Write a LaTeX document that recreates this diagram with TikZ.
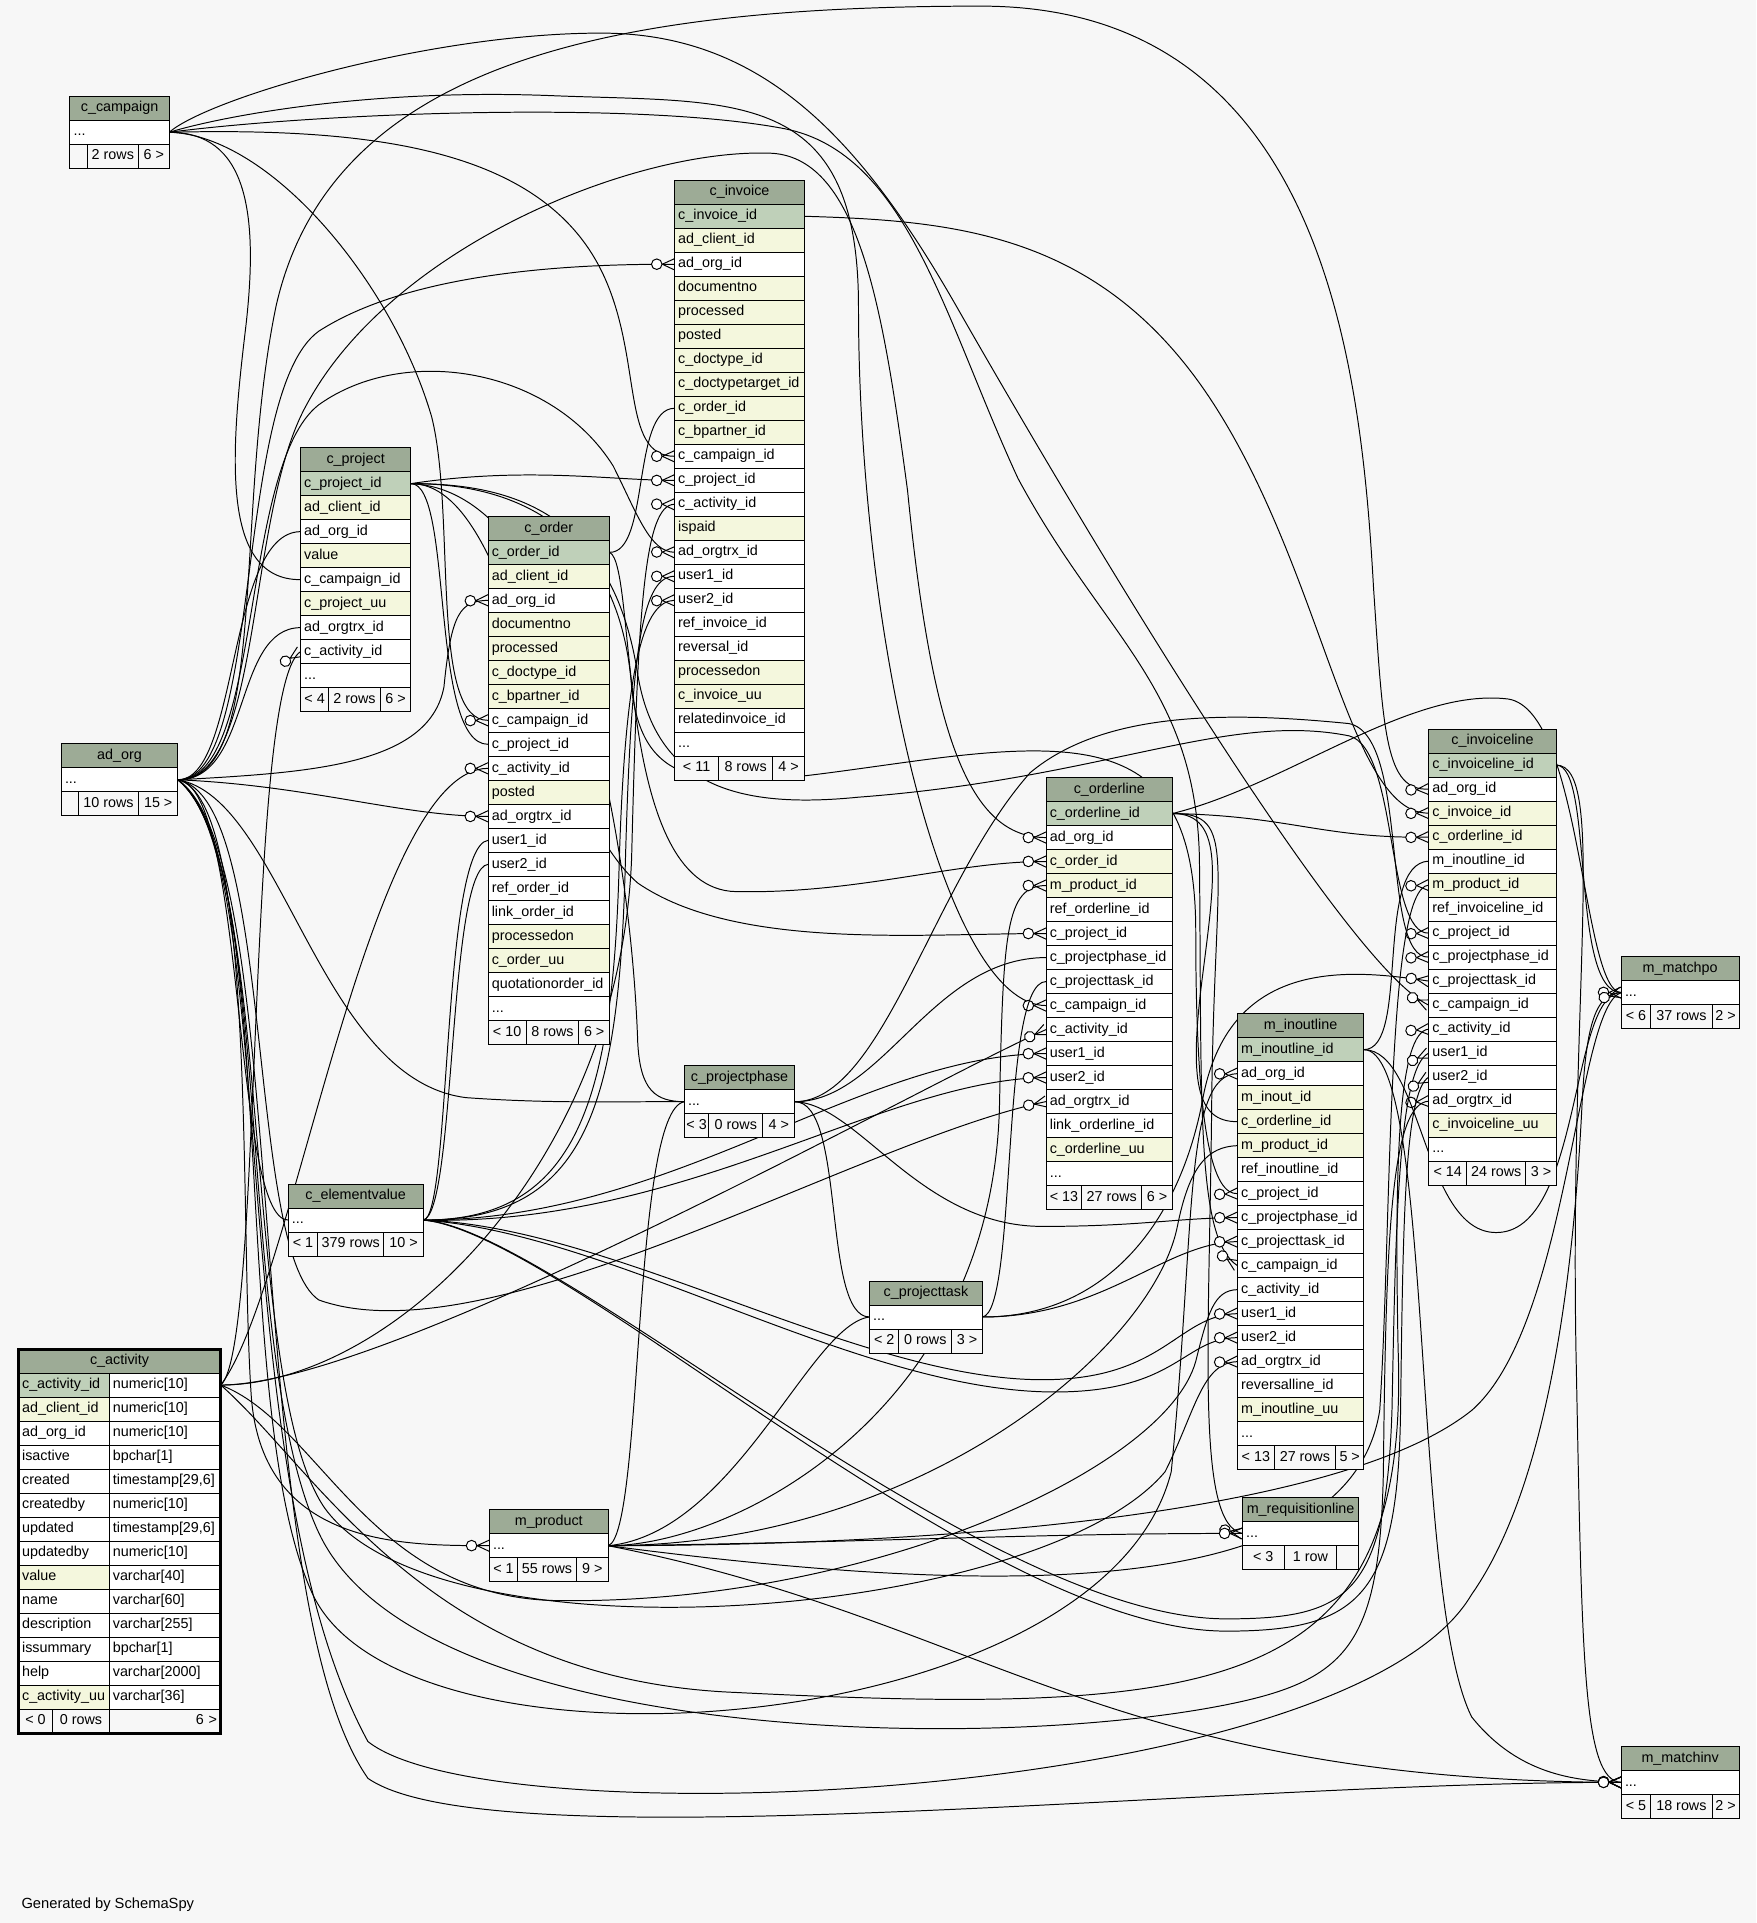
\documentclass[tikz,border=0pt]{standalone}
\usepackage{fontspec}
\setmainfont{Liberation Sans}
\usetikzlibrary{positioning,decorations.markings}

\definecolor{bgc}{RGB}{247,247,247}
\definecolor{hdc}{RGB}{157,171,150}
\definecolor{pkc}{RGB}{191,208,185}
\definecolor{nnc}{RGB}{244,247,221}

\pgfdeclarelayer{bg}
\pgfdeclarelayer{edges}
\pgfsetlayers{bg,edges,main}

\newcommand\tabfont{\fontsize{11.7pt}{13pt}\selectfont}

\tikzset{
  cell/.style={draw, line width=0.8pt, anchor=north west, inner ysep=0pt, outer sep=0pt,
    minimum height=19.57pt, text height=8.6pt, text depth=2.6pt, font=\tabfont},
  hd/.style={cell, fill=hdc, inner xsep=0pt},
  fld/.style={cell, fill=white, inner xsep=3pt, align=left},
  ftc/.style={cell, fill=bgc, inner xsep=0pt},
  fk/.style={draw, line width=0.8pt, postaction={decorate},
    decoration={markings, mark=at position 1 with {
      \draw[line width=0.8pt] (-10pt,0pt) -- (0pt,4.6pt) (-10pt,0pt) -- (0pt,-4.6pt);
      \draw[line width=0.8pt, fill=white] (-14.5pt,0pt) circle (4.3pt);}}}
}

% 表尾: 三格
\newcommand\tabfoot[9]{%
  \node[ftc, minimum width=#4] (#1-f1) at (#2,#3) {#5};
  \node[ftc, minimum width=#6, right=0pt of #1-f1] (#1-f2) {#7};
  \node[ftc, minimum width=#8, right=0pt of #1-f2] (#1-f3) {#9};}

\begin{document}
\begin{tikzpicture}[x=1pt, y=-1pt]
  \useasboundingbox (0,0) rectangle (1432,1568);
  \begin{pgfonlayer}{bg}
    \fill[bgc] (0,0) rectangle (1432,1568);
  \end{pgfonlayer}

  % 只有一行的表
  \foreach \id/\x/\y/\w/\ttl/\wa/\fa/\wb/\fb/\wc/\fc in {
    ccamp/57/78.5/81/c\_campaign/14/{}/42/2 rows/25/6 >,
    adorg/50/606.5/95/ad\_org/14/{}/49/10 rows/32/15 >,
    cpp/558/869/90/c\_projectphase/20/< 3/44/0 rows/26/4 >,
    cpt/709/1044.5/92/c\_projecttask/24/< 2/43/0 rows/25/3 >,
    cev/235/965.5/110/c\_elementvalue/24/< 1/54/379 rows/32/10 >,
    mprod/399/1231/97/m\_product/23/< 1/48/55 rows/26/9 >,
    mreq/1013/1221/95/m\_requisitionline/34/< 3/43/1 row/18/{},
    mmpo/1322/780/96/m\_matchpo/24/< 6/50/37 rows/22/2 >,
    mminv/1322/1424/96/m\_matchinv/24/< 5/50/18 rows/22/2 >}
  {
    \pgfmathsetmacro\tw{\w-6}
    \node[hd, minimum width=\w] (\id) at (\x,\y) {\ttl};
    \node[fld, text width=\tw pt] (\id-dots) at (\x,\y+19.57) {.{}.{}.};
    \tabfoot{\id}{\x}{\y+39.14}{\wa}{\fa}{\wb}{\fb}{\wc}{\fc}
  }

  % c_project
  \node[hd, minimum width=90] (cproj) at (245,365) {c\_project};
  \foreach \rk/\rc/\rt [count=\i] in {pk/pkc/c\_project\_id, cli/nnc/ad\_client\_id,
    org/white/ad\_org\_id, val/nnc/value, camp/white/c\_campaign\_id, uu/nnc/c\_project\_uu,
    trx/white/ad\_orgtrx\_id, act/white/c\_activity\_id, dots/white/.{}.{}.}
    \node[fld, fill=\rc, text width=84pt] (cproj-\rk) at (245,365+\i*19.57) {\rt};
  \tabfoot{cproj}{245}{365+10*19.57}{23}{< 4}{42}{2 rows}{25}{6 >}

  % c_order
  \node[hd, minimum width=99] (corder) at (398,421) {c\_order};
  \foreach \rk/\rc/\rt [count=\i] in {pk/pkc/c\_order\_id, cli/nnc/ad\_client\_id,
    org/white/ad\_org\_id, doc/nnc/documentno, proc/nnc/processed, dt/nnc/c\_doctype\_id,
    bp/nnc/c\_bpartner\_id, camp/white/c\_campaign\_id, proj/white/c\_project\_id,
    act/white/c\_activity\_id, post/nnc/posted, trx/white/ad\_orgtrx\_id, u1/white/user1\_id,
    u2/white/user2\_id, ref/white/ref\_order\_id, link/white/link\_order\_id,
    pon/nnc/processedon, uu/nnc/c\_order\_uu, quo/white/quotationorder\_id, dots/white/.{}.{}.}
    \node[fld, fill=\rc, text width=93pt] (corder-\rk) at (398,421+\i*19.57) {\rt};
  \tabfoot{corder}{398}{421+21*19.57}{31}{< 10}{43}{8 rows}{25}{6 >}

  % c_invoice
  \node[hd, minimum width=106] (cinv) at (550,147) {c\_invoice};
  \foreach \rk/\rc/\rt [count=\i] in {pk/pkc/c\_invoice\_id, cli/nnc/ad\_client\_id,
    org/white/ad\_org\_id, doc/nnc/documentno, proc/nnc/processed, post/nnc/posted,
    dt/nnc/c\_doctype\_id, dtt/nnc/c\_doctypetarget\_id, ord/nnc/c\_order\_id,
    bp/nnc/c\_bpartner\_id, camp/white/c\_campaign\_id, proj/white/c\_project\_id,
    act/white/c\_activity\_id, paid/nnc/ispaid, trx/white/ad\_orgtrx\_id, u1/white/user1\_id,
    u2/white/user2\_id, ref/white/ref\_invoice\_id, rev/white/reversal\_id,
    pon/nnc/processedon, uu/nnc/c\_invoice\_uu, rel/white/relatedinvoice\_id, dots/white/.{}.{}.}
    \node[fld, fill=\rc, text width=100pt] (cinv-\rk) at (550,147+\i*19.57) {\rt};
  \tabfoot{cinv}{550}{147+24*19.57}{36}{< 11}{44}{8 rows}{26}{4 >}

  % c_orderline
  \node[hd, minimum width=103] (col) at (853,634) {c\_orderline};
  \foreach \rk/\rc/\rt [count=\i] in {pk/pkc/c\_orderline\_id, org/white/ad\_org\_id,
    ord/nnc/c\_order\_id, prod/nnc/m\_product\_id, ref/white/ref\_orderline\_id,
    proj/white/c\_project\_id, phase/white/c\_projectphase\_id, task/white/c\_projecttask\_id,
    camp/white/c\_campaign\_id, act/white/c\_activity\_id, u1/white/user1\_id,
    u2/white/user2\_id, trx/white/ad\_orgtrx\_id, link/white/link\_orderline\_id,
    uu/nnc/c\_orderline\_uu, dots/white/.{}.{}.}
    \node[fld, fill=\rc, text width=97pt] (col-\rk) at (853,634+\i*19.57) {\rt};
  \tabfoot{col}{853}{634+17*19.57}{29}{< 13}{49}{27 rows}{25}{6 >}

  % c_invoiceline
  \node[hd, minimum width=104] (cil) at (1165,594.5) {c\_invoiceline};
  \foreach \rk/\rc/\rt [count=\i] in {pk/pkc/c\_invoiceline\_id, org/white/ad\_org\_id,
    inv/nnc/c\_invoice\_id, ol/nnc/c\_orderline\_id, io/white/m\_inoutline\_id,
    prod/nnc/m\_product\_id, ref/white/ref\_invoiceline\_id, proj/white/c\_project\_id,
    phase/white/c\_projectphase\_id, task/white/c\_projecttask\_id, camp/white/c\_campaign\_id,
    act/white/c\_activity\_id, u1/white/user1\_id, u2/white/user2\_id, trx/white/ad\_orgtrx\_id,
    uu/nnc/c\_invoiceline\_uu, dots/white/.{}.{}.}
    \node[fld, fill=\rc, text width=98pt] (cil-\rk) at (1165,594.5+\i*19.57) {\rt};
  \tabfoot{cil}{1165}{594.5+18*19.57}{31}{< 14}{48}{24 rows}{25}{3 >}

  % m_inoutline
  \node[hd, minimum width=103] (mio) at (1009,826.5) {m\_inoutline};
  \foreach \rk/\rc/\rt [count=\i] in {pk/pkc/m\_inoutline\_id, org/white/ad\_org\_id,
    io/nnc/m\_inout\_id, ol/nnc/c\_orderline\_id, prod/nnc/m\_product\_id,
    ref/white/ref\_inoutline\_id, proj/white/c\_project\_id, phase/white/c\_projectphase\_id,
    task/white/c\_projecttask\_id, camp/white/c\_campaign\_id, act/white/c\_activity\_id,
    u1/white/user1\_id, u2/white/user2\_id, trx/white/ad\_orgtrx\_id,
    rev/white/reversalline\_id, uu/nnc/m\_inoutline\_uu, dots/white/.{}.{}.}
    \node[fld, fill=\rc, text width=97pt] (mio-\rk) at (1009,826.5+\i*19.57) {\rt};
  \tabfoot{mio}{1009}{826.5+18*19.57}{30}{< 13}{50}{27 rows}{23}{5 >}

  % c_activity (两列)
  \node[hd, minimum width=165] (cact) at (15,1100) {c\_activity};
  \foreach \rk/\rc/\rt/\ty [count=\i] in {pk/pkc/c\_activity\_id/numeric[10],
    cli/nnc/ad\_client\_id/numeric[10], org/white/ad\_org\_id/numeric[10],
    isa/white/isactive/bpchar[1], cr/white/created/{timestamp[29,6]},
    crb/white/createdby/numeric[10], upd/white/updated/{timestamp[29,6]},
    updb/white/updatedby/numeric[10], val/nnc/value/varchar[40], nm/white/name/varchar[60],
    des/white/description/varchar[255], sum/white/issummary/bpchar[1],
    hlp/white/help/varchar[2000], uu/nnc/c\_activity\_uu/varchar[36]}
  {
    \node[fld, fill=\rc, text width=68pt] (cact-\rk) at (15,1100+\i*19.57) {\rt};
    \node[fld, text width=85pt] (cact-\rk-t) at (89,1100+\i*19.57) {\ty};
  }
  \node[ftc, minimum width=28] (cact-f1) at (15,1100+15*19.57) {< 0};
  \node[ftc, minimum width=46, right=0pt of cact-f1] (cact-f2) {0 rows};
  \node[ftc, text width=85pt, inner xsep=3pt, align=right, right=0pt of cact-f2] (cact-f3) {6 >};
  \draw[line width=2.4pt] (cact.north west) rectangle (cact-f3.south east);

  \node[anchor=base west, font=\fontsize{12pt}{14pt}\selectfont] (gen) at (14,1556) {Generated by SchemaSpy};

  % 连线
  \begin{pgfonlayer}{edges}
    % c_campaign
    \draw[fk] (ccamp-dots.east) .. controls (200,108) and (212,170) .. (200,270) .. controls (188,370) and (180,473) .. (cproj-camp.west);
    \draw[fk] (ccamp-dots.east) .. controls (220,110) and (320,230) .. (352,340) .. controls (372,420) and (350,588) .. (corder-camp.west);
    \draw[fk] (ccamp-dots.east) .. controls (300,104) and (440,120) .. (490,220) .. controls (525,290) and (505,372) .. (cinv-camp.west);
    \draw[fk] (ccamp-dots.east) .. controls (180,95) and (300,72) .. (450,78) .. controls (600,84) and (700,70) .. (700,250) .. controls (700,520) and (770,820) .. (col-camp.west);
    \draw[fk] (ccamp-dots.east) .. controls (170,80) and (350,27) .. (490,27) .. controls (620,27) and (700,110) .. (780,250) .. controls (900,460) and (1100,790) .. (cil-camp.west);
    \draw[fk] (ccamp-dots.east) .. controls (260,92) and (520,82) .. (640,105) .. controls (740,125) and (770,260) .. (830,390) .. controls (900,520) and (975,560) .. (978,700) .. controls (980,900) and (975,1010) .. (mio-camp.west);
    % ad_org
    \draw[fk] (adorg-dots.east) .. controls (195,636) and (185,434) .. (cproj-org.west);
    \draw[fk] (adorg-dots.east) .. controls (205,636) and (190,512) .. (cproj-trx.west);
    \draw[fk] (adorg-dots.east) .. controls (215,636) and (190,320) .. (260,270) .. controls (330,225) and (450,215) .. (cinv-org.west);
    \draw[fk] (adorg-dots.east) .. controls (215,636) and (195,380) .. (260,330) .. controls (330,280) and (450,300) .. (500,380) .. controls (520,420) and (530,450) .. (cinv-trx.west);
    \draw[fk] (adorg-dots.east) .. controls (250,630) and (350,625) .. (362,560) .. controls (368,500) and (375,490) .. (corder-org.west);
    \draw[fk] (adorg-dots.east) .. controls (250,640) and (330,666) .. (corder-trx.west);
    \draw[fk] (adorg-dots.east) .. controls (215,636) and (200,420) .. (250,330) .. controls (320,200) and (520,120) .. (630,125) .. controls (700,130) and (720,250) .. (740,400) .. controls (760,600) and (790,683) .. (col-org.west);
    \draw[fk] (adorg-dots.east) .. controls (225,650) and (200,1020) .. (260,1060) .. controls (400,1110) and (700,930) .. (col-trx.west);
    \draw[fk] (adorg-dots.east) .. controls (220,636) and (190,420) .. (225,250) .. controls (270,50) and (500,5) .. (800,5) .. controls (1080,5) and (1110,300) .. (1120,480) .. controls (1128,600) and (1130,645) .. (cil-org.west);
    \draw[fk] (adorg-dots.east) .. controls (225,700) and (190,1100) .. (260,1250) .. controls (340,1420) and (800,1430) .. (1000,1390) .. controls (1100,1370) and (1125,1340) .. (1128,1200) .. controls (1130,1000) and (1135,900) .. (cil-trx.west);
    \draw[fk] (adorg-dots.east) .. controls (230,700) and (185,1150) .. (255,1300) .. controls (330,1460) and (900,1420) .. (955,1200) .. controls (975,1000) and (965,876) .. (mio-org.west);
    \draw[fk] (adorg-dots.east) .. controls (225,700) and (195,1130) .. (265,1230) .. controls (360,1360) and (850,1320) .. (950,1200) .. controls (975,1150) and (980,1111) .. (mio-trx.west);
    \draw[fk] (adorg-dots.east) .. controls (200,640) and (190,995) .. (cev-dots.west);
    \draw[fk] (adorg-dots.east) .. controls (210,650) and (195,1000) .. (205,1140) .. controls (215,1262) and (330,1260) .. (mprod-dots.west);
    \draw[fk] (adorg-dots.east) .. controls (230,650) and (260,880) .. (380,895) .. controls (450,900) and (500,898) .. (cpp-dots.west);
    \draw[fk] (adorg-dots.east) .. controls (230,700) and (180,1200) .. (300,1420) .. controls (400,1500) and (1100,1470) .. (1200,1300) .. controls (1270,1200) and (1285,1000) .. (1290,900) .. controls (1293,840) and (1300,809) .. (mmpo-dots.west);
    \draw[fk] (adorg-dots.east) .. controls (240,700) and (195,1300) .. (300,1450) .. controls (400,1520) and (1000,1452) .. (mminv-dots.west);
    % c_activity
    \draw[fk] (cact-pk-t.east) .. controls (215,1100) and (200,560) .. (cproj-act.west);
    \draw[fk] (cact-pk-t.east) .. controls (240,1050) and (300,627) .. (corder-act.west);
    \draw[fk] (cact-pk-t.east) .. controls (320,1129) and (505,950) .. (515,700) .. controls (520,500) and (525,411) .. (cinv-act.west);
    \draw[fk] (cact-pk-t.east) .. controls (320,1129) and (760,880) .. (col-act.west);
    \draw[fk] (cact-pk-t.east) .. controls (260,1200) and (350,1370) .. (600,1380) .. controls (1000,1400) and (1150,1380) .. (1140,1100) .. controls (1137,950) and (1140,841) .. (cil-act.west);
    \draw[fk] (cact-pk-t.east) .. controls (260,1160) and (300,1300) .. (450,1305) .. controls (700,1310) and (950,1200) .. (975,1110) .. controls (985,1070) and (990,1052) .. (mio-act.west);
    % c_elementvalue
    \draw[fk] (cev-dots.east) .. controls (368,995) and (360,690) .. (corder-u1.west);
    \draw[fk] (cev-dots.east) .. controls (372,990) and (365,708) .. (corder-u2.west);
    \draw[fk] (cev-dots.east) .. controls (480,995) and (505,900) .. (510,700) .. controls (515,520) and (525,470) .. (cinv-u1.west);
    \draw[fk] (cev-dots.east) .. controls (470,995) and (500,900) .. (505,700) .. controls (510,540) and (525,490) .. (cinv-u2.west);
    \draw[fk] (cev-dots.east) .. controls (550,995) and (700,860) .. (col-u1.west);
    \draw[fk] (cev-dots.east) .. controls (560,1000) and (720,880) .. (col-u2.west);
    \draw[fk] (cev-dots.east) .. controls (450,1000) and (800,1320) .. (1000,1320) .. controls (1100,1320) and (1130,1300) .. (1135,1150) .. controls (1138,1000) and (1140,870) .. (cil-u1.west);
    \draw[fk] (cev-dots.east) .. controls (460,1005) and (800,1330) .. (1000,1330) .. controls (1110,1330) and (1140,1300) .. (1142,1150) .. controls (1144,1000) and (1145,890) .. (cil-u2.west);
    \draw[fk] (cev-dots.east) .. controls (500,1000) and (700,1125) .. (850,1125) .. controls (950,1125) and (960,1072) .. (mio-u1.west);
    \draw[fk] (cev-dots.east) .. controls (500,1005) and (700,1135) .. (860,1135) .. controls (960,1135) and (965,1091) .. (mio-u2.west);
    % c_project
    \draw[fk] (cproj-pk.east) .. controls (370,394) and (350,607) .. (corder-proj.west);
    \draw[fk] (cproj-pk.east) .. controls (430,380) and (500,392) .. (cinv-proj.west);
    \draw[fk] (cproj-pk.east) .. controls (420,394) and (440,650) .. (520,720) .. controls (600,775) and (750,761) .. (col-proj.west);
    \draw[fk] (cproj-pk.east) .. controls (420,394) and (500,420) .. (520,550) .. controls (535,640) and (600,660) .. (700,650) .. controls (900,635) and (1000,580) .. (1100,600) .. controls (1140,610) and (1130,762) .. (cil-proj.west);
    \draw[fk] (cproj-pk.east) .. controls (420,394) and (505,430) .. (515,560) .. controls (525,660) and (600,640) .. (750,620) .. controls (900,600) and (975,610) .. (975,760) .. controls (975,930) and (990,974) .. (mio-proj.west);
    \draw[fk] (cproj-pk.east) .. controls (470,400) and (515,700) .. (520,850) .. controls (522,890) and (535,898) .. (cpp-dots.west);
    % c_order
    \draw[fk] (corder-pk.east) .. controls (530,451) and (515,333) .. (cinv-ord.west);
    \draw[fk] (corder-pk.east) .. controls (520,460) and (500,725) .. (600,727) .. controls (700,729) and (780,702) .. (col-ord.west);
    % c_invoice
    \draw[fk] (cinv-pk.east) .. controls (780,180) and (900,190) .. (990,330) .. controls (1080,470) and (1100,664) .. (cil-inv.west);
    % c_orderline
    \draw[fk] (col-pk.east) .. controls (1050,665) and (1080,684) .. (cil-ol.west);
    \draw[fk] (col-pk.east) .. controls (1000,663) and (990,720) .. (980,800) .. controls (970,880) and (975,915) .. (mio-ol.west);
    \draw[fk] (col-pk.east) .. controls (1010,663) and (990,700) .. (988,900) .. controls (986,1100) and (975,1243) .. (mreq-dots.west);
    \draw[fk] (col-pk.east) .. controls (1050,640) and (1150,560) .. (1230,570) .. controls (1290,580) and (1290,809) .. (mmpo-dots.west);
    % c_invoiceline
    \draw[fk] (cil-pk.east) .. controls (1300,624) and (1280,809) .. (mmpo-dots.west);
    \draw[fk] (cil-pk.east) .. controls (1310,624) and (1280,800) .. (1285,1100) .. controls (1290,1350) and (1290,1452) .. (mminv-dots.west);
    % m_inoutline
    \draw[fk] (mio-pk.east) .. controls (1150,856) and (1120,704) .. (cil-io.west);
    \draw[fk] (mio-pk.east) .. controls (1160,856) and (1160,1005) .. (1220,1005) .. controls (1290,1005) and (1280,809) .. (mmpo-dots.west);
    \draw[fk] (mio-pk.east) .. controls (1170,856) and (1150,1300) .. (1200,1400) .. controls (1240,1450) and (1290,1452) .. (mminv-dots.west);
    % m_product
    \draw[fk] (mprod-dots.east) .. controls (600,1260) and (810,1150) .. (815,900) .. controls (818,760) and (820,722) .. (col-prod.west);
    \draw[fk] (mprod-dots.east) .. controls (800,1300) and (1100,1310) .. (1125,1150) .. controls (1135,1000) and (1130,723) .. (cil-prod.west);
    \draw[fk] (mprod-dots.east) .. controls (750,1260) and (940,1100) .. (960,1000) .. controls (970,950) and (985,935) .. (mio-prod.west);
    \draw[fk] (mprod-dots.east) .. controls (525,1250) and (515,905) .. (cpp-dots.west);
    \draw[fk] (mprod-dots.east) .. controls (600,1250) and (660,1080) .. (cpt-dots.west);
    \draw[fk] (mprod-dots.east) .. controls (700,1258) and (850,1250) .. (mreq-dots.west);
    \draw[fk] (mprod-dots.east) .. controls (800,1260) and (1100,1230) .. (1200,1150) .. controls (1280,1080) and (1285,820) .. (mmpo-dots.west);
    \draw[fk] (mprod-dots.east) .. controls (800,1320) and (900,1452) .. (mminv-dots.west);
    % c_projectphase
    \draw[fk] (cpp-dots.east) .. controls (720,898) and (760,781) .. (col-phase.west);
    \draw[fk] (cpp-dots.east) .. controls (720,898) and (760,720) .. (840,630) .. controls (900,580) and (1000,580) .. (1100,590) .. controls (1150,600) and (1125,782) .. (cil-phase.west);
    \draw[fk] (cpp-dots.east) .. controls (700,900) and (750,1000) .. (850,1000) .. controls (930,1000) and (960,993) .. (mio-phase.west);
    \draw[fk] (cpp-dots.east) .. controls (690,898) and (670,1074) .. (cpt-dots.west);
    % c_projecttask
    \draw[fk] (cpt-dots.east) .. controls (830,1070) and (815,800) .. (col-task.west);
    \draw[fk] (cpt-dots.east) .. controls (900,1074) and (950,1013) .. (mio-task.west);
    \draw[fk] (cpt-dots.east) .. controls (900,1074) and (960,1000) .. (980,900) .. controls (1000,780) and (1100,790) .. (cil-task.west);
  \end{pgfonlayer}
\end{tikzpicture}
\end{document}
